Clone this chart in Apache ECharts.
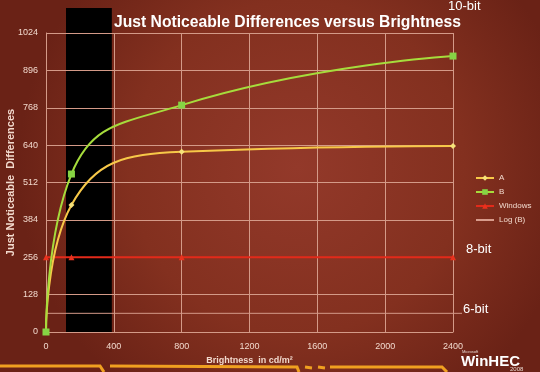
<!DOCTYPE html>
<html>
<head>
<meta charset="utf-8">
<script src="https://cdn.jsdelivr.net/npm/echarts@6/dist/echarts.min.js"></script>
<style>
html,body{margin:0;padding:0;background:#7a2a1c;}
#c{width:540px;height:372px;}
</style>
</head>
<body>
<div id="c"></div>
<script>
const brightness = [0, 150, 800, 2400];
const seriesA = [0, 435, 617, 637];
const seriesB = [0, 541, 777, 945];
const seriesWindows = [256, 256, 256, 256];
const xTicks = [0, 400, 800, 1200, 1600, 2000, 2400];
const yTicks = [0, 128, 256, 384, 512, 640, 768, 896, 1024];
const bitLevels = [{name: '10-bit', value: 1024}, {name: '8-bit', value: 256}, {name: '6-bit', value: 64}];

const pair = (ys) => brightness.map((x, i) => [x, ys[i]]);
const chart = echarts.init(document.getElementById('c'), null, {renderer: 'canvas'});
const FONT = '"Liberation Sans", Arial, sans-serif';
const labelColor = '#f2d9cd';
const gridColor = '#d49a88';

const option = {
  animation: false,
  backgroundColor: {
    type: 'radial', x: 0.55, y: 0.45, r: 0.75,
    colorStops: [{offset: 0, color: '#93392a'}, {offset: 0.6, color: '#83301f'}, {offset: 1, color: '#6a2216'}]
  },
  title: {
    text: 'Just Noticeable Differences versus Brightness',
    left: 109, top: 10,
    textStyle: {color: '#ffffff', fontFamily: FONT, fontWeight: 'bold', fontSize: 15.7}
  },
  grid: {left: 46, right: 87, top: 33, bottom: 40, containLabel: false, outerBoundsMode: 'none'},
  legend: {
    orient: 'vertical', left: 475, top: 174, padding: 0,
    itemWidth: 18, itemHeight: 7, itemGap: 6,
    textStyle: {color: labelColor, fontFamily: FONT, fontSize: 8},
    data: ['A', 'B', 'Windows', 'Log (B)']
  },
  xAxis: {
    type: 'value', min: 0, max: 2400, interval: 400,
    name: 'Brightness  in cd/m²', nameLocation: 'middle', nameGap: 22,
    nameTextStyle: {color: labelColor, fontFamily: FONT, fontWeight: 'bold', fontSize: 9},
    axisLine: {show: true, lineStyle: {color: gridColor}},
    axisTick: {show: false},
    axisLabel: {color: labelColor, fontFamily: FONT, fontSize: 9, margin: 10, formatter: (v) => String(v)},
    splitLine: {show: true, lineStyle: {color: gridColor, width: 1}}
  },
  yAxis: {
    type: 'value', min: 0, max: 1024, interval: 128,
    name: 'Just Noticeable  Differences', nameLocation: 'middle', nameGap: 30, nameMoveOverlap: false,
    nameTextStyle: {color: labelColor, fontFamily: FONT, fontWeight: 'bold', fontSize: 11},
    axisLine: {show: true, lineStyle: {color: gridColor}},
    axisTick: {show: false},
    axisLabel: {color: labelColor, fontFamily: FONT, fontSize: 9, margin: 8, formatter: (v) => String(v)},
    splitLine: {show: true, lineStyle: {color: gridColor, width: 1}}
  },
  series: [
    {
      name: 'A', type: 'line', data: pair(seriesA), smooth: 0.5,
      symbol: 'diamond', symbolSize: 6,
      itemStyle: {color: '#f6e27a'},
      lineStyle: {color: '#f7c848', width: 2}, z: 3
    },
    {
      name: 'B', type: 'line', data: pair(seriesB), smooth: 0.5,
      symbol: 'rect', symbolSize: 7,
      itemStyle: {color: '#86d444'},
      lineStyle: {color: '#a6dc3c', width: 2}, z: 4
    },
    {
      name: 'Windows', type: 'line', data: pair(seriesWindows),
      symbol: 'triangle', symbolSize: 6,
      itemStyle: {color: '#e8321e'},
      lineStyle: {color: '#e32a1a', width: 2}, z: 2
    },
    {
      name: 'Log (B)', type: 'line', data: [],
      symbol: 'none', itemStyle: {color: 'rgba(0,0,0,0)', borderWidth: 0},
      lineStyle: {color: '#d89c8c', width: 1}
    }
  ]
};
chart.setOption(option);

// decorations positioned through the axes
const px = (x, y) => chart.convertToPixel({gridIndex: 0}, [x, y]);
const p0 = px(0, 0), p400 = px(400, 1024), pEnd = px(2400, 0);
const p64 = px(0, 64);
const graphics = [
  // black panel behind the plot
  {type: 'rect', z: -1, shape: {x: p0[0] + 20, y: 8, width: p400[0] - 2 - (p0[0] + 20), height: p0[1] - 8}, style: {fill: '#000000'}},
  // 6-bit reference line
  {type: 'line', shape: {x1: p64[0], y1: p64[1], x2: pEnd[0] + 9, y2: p64[1]}, style: {stroke: gridColor, lineWidth: 1}},
  // bit labels
  {type: 'text', left: 448, top: 0, style: {text: bitLevels[0].name, fill: '#ffffff', font: '13px ' + FONT}},
  {type: 'text', left: 466, top: px(0, bitLevels[1].value)[1] - 14, style: {text: bitLevels[1].name, fill: '#ffffff', font: '13px ' + FONT}},
  {type: 'text', left: 463, top: p64[1] - 10, style: {text: bitLevels[2].name, fill: '#ffffff', font: '13px ' + FONT}},
  // WinHEC logo
  {type: 'text', left: 462, top: 350, style: {text: 'Microsoft', fill: '#e8d8d0', font: '4px ' + FONT}},
  {type: 'text', left: 461, top: 354, style: {text: 'WinHEC', fill: '#ffffff', font: 'bold 15px ' + FONT}},
  {type: 'text', left: 510, top: 366, style: {text: '2008', fill: '#e8d8d0', font: '6px ' + FONT}},
  // bottom orange strokes
  {type: 'polyline', shape: {points: [[0, 366], [100, 366], [104, 372]]}, style: {stroke: '#f0a020', lineWidth: 3, fill: null}},
  {type: 'polyline', shape: {points: [[110, 366], [297, 367], [299, 372]]}, style: {stroke: '#f0a020', lineWidth: 3, fill: null}},
  {type: 'line', shape: {x1: 305, y1: 367, x2: 312, y2: 368}, style: {stroke: '#f0a020', lineWidth: 3}},
  {type: 'line', shape: {x1: 318, y1: 367, x2: 325, y2: 368}, style: {stroke: '#f0a020', lineWidth: 3}},
  {type: 'polyline', shape: {points: [[330, 367], [442, 367], [447, 372]]}, style: {stroke: '#f0a020', lineWidth: 3, fill: null}}
];
chart.setOption({graphic: graphics});
</script>
</body>
</html>
